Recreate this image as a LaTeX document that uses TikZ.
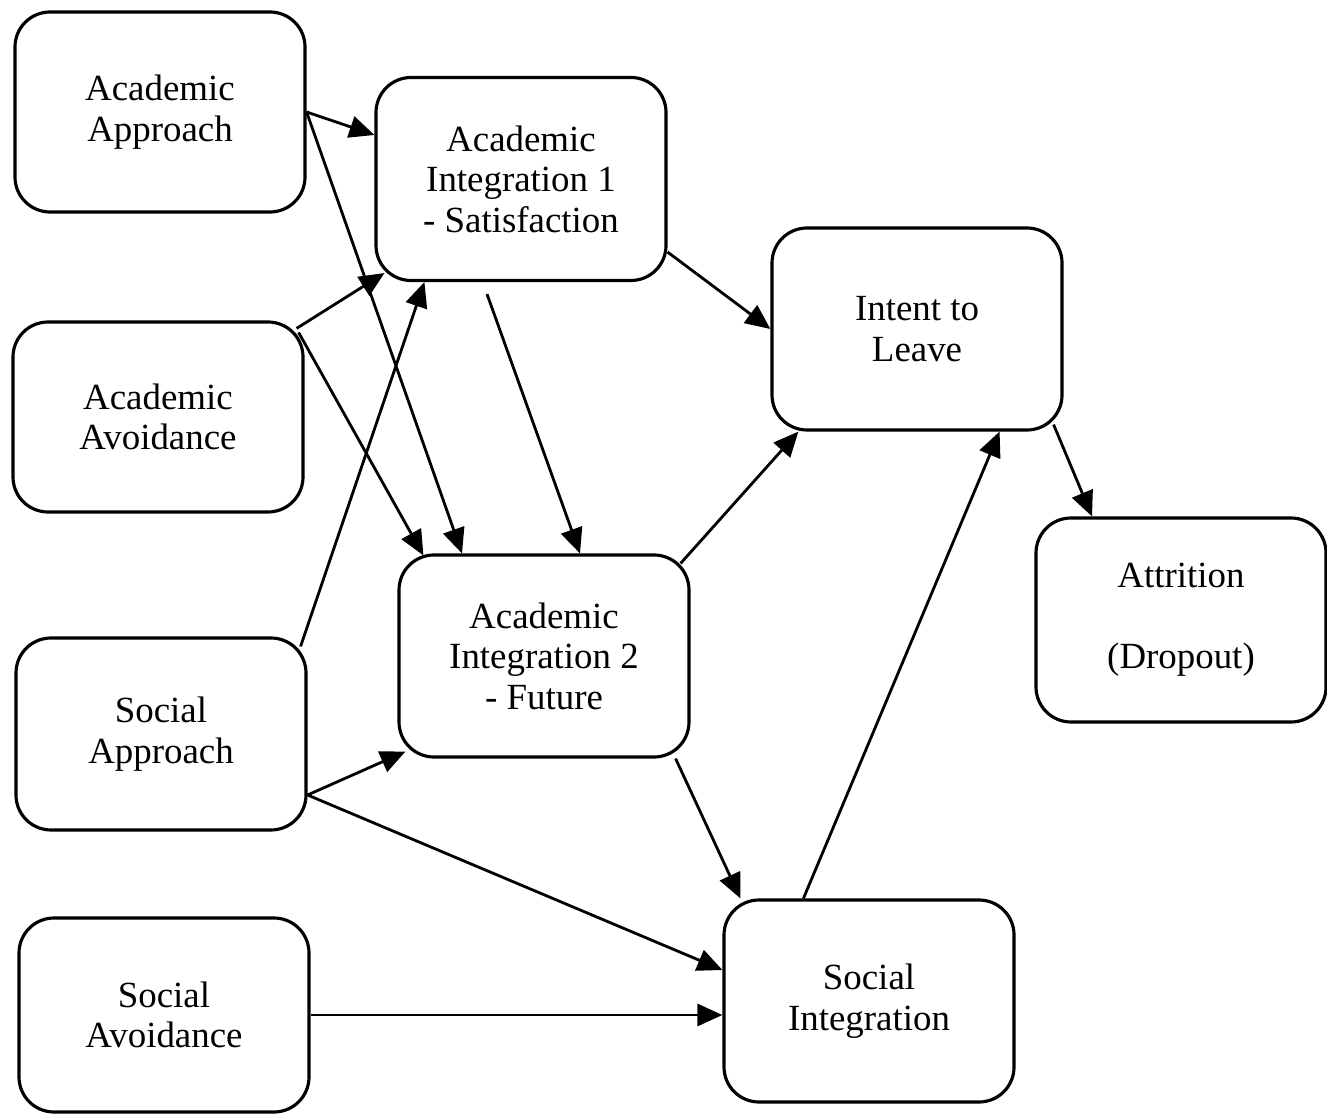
\documentclass[tikz,border=0pt]{standalone}
\usepackage{fontspec}
\setmainfont{Liberation Serif}
\usetikzlibrary{arrows.meta,calc}

\tikzset{
  factor/.style={draw, line width=1.8pt, rounded corners=0.7cm, align=center,
    minimum width=290*0.02cm, minimum height=200*0.02cm, inner sep=0pt,
    font=\fontsize{21}{23}\selectfont},
  path/.style={line width=1.6pt, -{Triangle[length=0.5cm,width=0.44cm]}}
}

\begin{document}
\begin{tikzpicture}[x=0.02cm, y=0.02cm]
\useasboundingbox (0,0) rectangle (1327,1116);
% predictors
\node[factor] (acapp) at (160,1004) {Academic\\Approach};
\node[factor, minimum height=190*0.02cm] (acavoid) at (158,699) {Academic\\Avoidance};
\node[factor, minimum height=192*0.02cm] (socapp) at (161,382) {Social\\Approach};
\node[factor, minimum height=194*0.02cm] (socavoid) at (164,101) {Social\\Avoidance};
% integration
\node[factor, minimum height=203*0.02cm] (acint1) at (521,937) {Academic\\Integration 1\\- Satisfaction};
\node[factor, minimum height=202*0.02cm] (acint2) at (544,460) {Academic\\Integration 2\\- Future};
\node[factor, minimum height=202*0.02cm] (socint) at (869,115) {Social\\Integration};
% outcomes
\node[factor, minimum height=202*0.02cm] (intent) at (917,787) {Intent to\\Leave};
\node[factor, minimum height=204*0.02cm] (attrition) at (1181,496) {Attrition\\\mbox{}\\(Dropout)};

\draw[path] (acapp.east) -- ($(acint1.west)+(0,44)$);
\draw[path] (acapp.east) -- ($(acint2.north)+(-82,0)$);
\draw[path] ($(acavoid.north east)+(-8,-8)$) -- ($(acint1.south west)+(10,9)$);
\draw[path] ($(acavoid.north east)+(-6,-12)$) -- ($(acint2.north west)+(26,-2)$);
\draw[path] ($(socapp.north east)+(-7,-10)$) -- ($(acint1.south west)+(50,0)$);
\draw[path] ($(socapp.east)+(0,-61)$) -- ($(acint2.south west)+(8,7)$);
\draw[path] ($(socapp.east)+(0,-61)$) -- ($(socint.west)+(0,31)$);
\draw[path] (socavoid.east) -- (socavoid.east -| socint.west);
\draw[path] ($(acint1.south)+(-34,-12)$) -- ($(acint2.north)+(36,0)$);
\draw[path] ($(acint1.south east)+(0,30)$) -- (intent.west);
\draw[path] ($(acint2.north east)+(-10,-10)$) -- ($(intent.south west)+(28,0)$);
\draw[path] ($(acint2.south east)+(-15,0)$) -- ($(socint.north west)+(18,0)$);
\draw[path] ($(socint.north west)+(81,0)$) -- ($(intent.south east)+(-64,0)$);
\draw[path] ($(intent.south east)+(-10,7)$) -- ($(attrition.north)+(-89,0)$);
\end{tikzpicture}
\end{document}
